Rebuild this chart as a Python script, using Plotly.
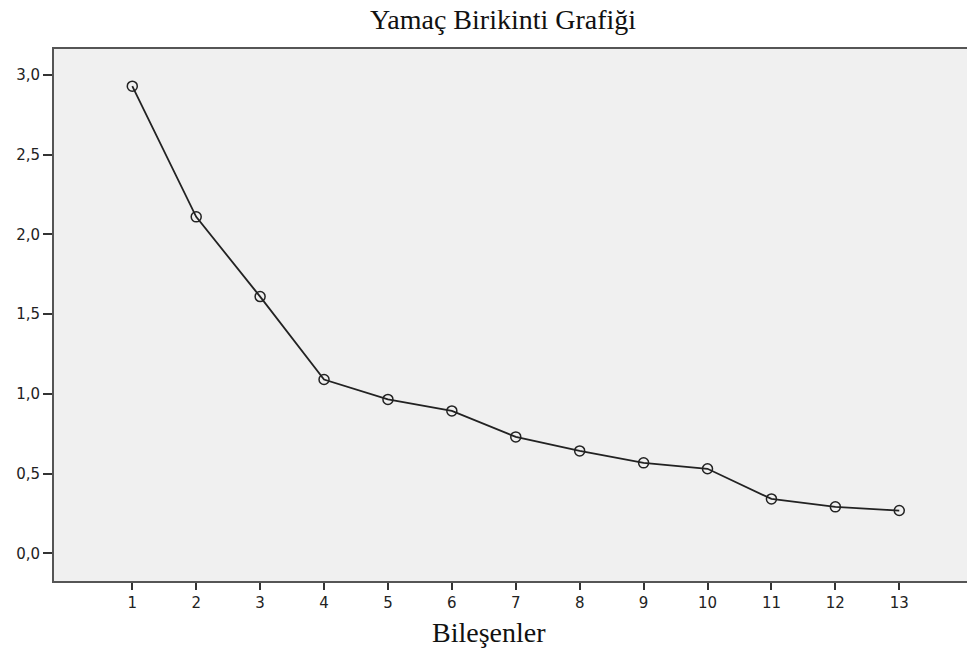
import plotly.graph_objects as go

components = list(range(1, 14))
eigenvalues = [2.93, 2.11, 1.61, 1.09, 0.965, 0.893, 0.73, 0.642, 0.567, 0.53, 0.341, 0.291, 0.268]
y_ticks = [0.0, 0.5, 1.0, 1.5, 2.0, 2.5, 3.0]
y_tick_labels = ["0,0", "0,5", "1,0", "1,5", "2,0", "2,5", "3,0"]
title_text = "Yamaç Birikinti Grafiği"
x_title = "Bileşenler"

fig = go.Figure()
fig.add_trace(go.Scatter(
    x=components, y=eigenvalues, mode="lines+markers",
    line=dict(color="#222222", width=1.8),
    marker=dict(symbol="circle-open", size=10, color="#222222", line=dict(width=1.5)),
    showlegend=False, hoverinfo="x+y",
))

W, H = 967, 648
L, T, B, R = 54, 49, 67, 0
fig.update_layout(
    width=W, height=H,
    margin=dict(l=L, r=R, t=T, b=B, pad=0),
    paper_bgcolor="white", plot_bgcolor="#f0f0f0",
    font=dict(family="DejaVu Sans", color="#333333"),
    title=dict(text=title_text, x=(503 - L) / (W - L - R), xref="paper", xanchor="center",
               y=1 - 19 / H, yref="container", yanchor="middle",
               font=dict(family="Liberation Serif", size=28, color="#111111")),
    xaxis=dict(range=[-0.225, 14.06], tickmode="array", tickvals=components,
               ticktext=[str(c) for c in components],
               ticks="outside", ticklen=7, tickwidth=2, tickcolor="#333333",
               showline=True, linecolor="#555555", linewidth=2, mirror=True,
               showgrid=False, zeroline=False,
               tickfont=dict(family="DejaVu Sans", size=15, color="#222222")),
    yaxis=dict(range=[-0.174, 3.163], tickmode="array", tickvals=y_ticks, ticktext=y_tick_labels,
               ticks="outside", ticklen=9, tickwidth=2, tickcolor="#333333",
               showline=True, linecolor="#555555", linewidth=2,
               showgrid=False, zeroline=False,
               tickfont=dict(family="DejaVu Sans", size=15, color="#222222")),
    annotations=[dict(text=x_title, xref="paper", yref="paper",
                      x=(489 - L) / (W - L - R), y=-(632 - (H - B)) / (H - T - B),
                      xanchor="center", yanchor="middle", showarrow=False,
                      font=dict(family="Liberation Serif", size=28, color="#111111"))],
)

fig.write_html("out.html")
